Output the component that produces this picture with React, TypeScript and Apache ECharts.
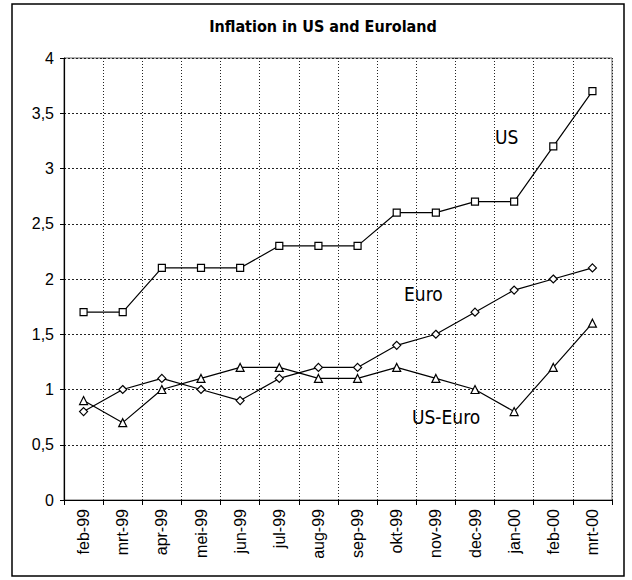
import React, { useEffect, useRef } from "react";
import * as echarts from "echarts";

const categories = ["feb-99", "mrt-99", "apr-99", "mei-99", "jun-99", "jul-99", "aug-99", "sep-99", "okt-99", "nov-99", "dec-99", "jan-00", "feb-00", "mrt-00"];
const usValues = [1.7, 1.7, 2.1, 2.1, 2.1, 2.3, 2.3, 2.3, 2.6, 2.6, 2.7, 2.7, 3.2, 3.7];
const euroValues = [0.8, 1.0, 1.1, 1.0, 0.9, 1.1, 1.2, 1.2, 1.4, 1.5, 1.7, 1.9, 2.0, 2.1];
const diffValues = [0.9, 0.7, 1.0, 1.1, 1.2, 1.2, 1.1, 1.1, 1.2, 1.1, 1.0, 0.8, 1.2, 1.6];
const title = "Inflation in US and Euroland";

const FONT = "'Liberation Sans', Arial, sans-serif";
const NARROW = "'Liberation Sans Narrow', 'DejaVu Sans Condensed', 'Liberation Sans', sans-serif";

export default function App() {
  const ref = useRef<HTMLDivElement>(null);
  useEffect(() => {
    document.body.style.margin = "0";
    const chart = echarts.init(ref.current!, null, { renderer: "svg" });
    const mkSeries = (name: string, data: number[], symbol: string, size: number) => ({
      name,
      type: "line",
      data,
      symbol,
      symbolSize: size,
      showAllSymbol: true,
      lineStyle: { color: "#000", width: 1.2 },
      itemStyle: { color: "#fff", borderColor: "#000", borderWidth: 1.2 },
      emphasis: { disabled: true },
    });
    chart.setOption({
      animation: false,
      backgroundColor: "#fff",
      title: {
        text: title,
        left: 318,
        top: 13,
        textAlign: "center",
        textStyle: { fontFamily: NARROW, fontSize: 16, fontWeight: "bold", color: "#000" },
      },
      grid: {
        left: 64,
        right: 20,
        top: 58,
        bottom: 80,
        show: true,
        borderColor: "#666",
        borderWidth: 1,
      },
      xAxis: {
        type: "category",
        data: categories,
        boundaryGap: true,
        axisLine: { lineStyle: { color: "#000", width: 1.2 } },
        axisTick: { show: true, length: 5, lineStyle: { color: "#000" } },
        axisLabel: {
          rotate: 90,
          margin: 9,
          fontFamily: FONT,
          fontSize: 16,
          color: "#000",
          interval: 0,
        },
        splitLine: { show: true, lineStyle: { color: "#222", type: [1, 2], width: 1 } },
      },
      yAxis: {
        type: "value",
        min: 0,
        max: 4,
        interval: 0.5,
        axisLine: { show: true, lineStyle: { color: "#000", width: 1.2 } },
        axisTick: { show: true, length: 4, lineStyle: { color: "#000" } },
        axisLabel: {
          fontFamily: FONT,
          fontSize: 16,
          color: "#000",
          margin: 10,
          formatter: (v: number) => String(v).replace(".", ","),
        },
        splitLine: { show: true, lineStyle: { color: "#222", type: [2, 2], width: 1 } },
      },
      series: [
        mkSeries("US", usValues, "rect", 7),
        mkSeries("Euro", euroValues, "diamond", 8),
        mkSeries("US-Euro", diffValues, "triangle", 8),
      ],
      graphic: [
        {
          type: "rect",
          shape: { x: 12, y: 4, width: 612, height: 572 },
          style: { fill: "none", stroke: "#000", lineWidth: 1.5 },
          silent: true,
          z: -1,
        },
        { type: "text", x: 495, y: 127, style: { text: "US", font: `19px ${NARROW}`, fill: "#000" } },
        { type: "text", x: 404, y: 284, style: { text: "Euro", font: `19px ${NARROW}`, fill: "#000" } },
        { type: "text", x: 412, y: 407, style: { text: "US-Euro", font: `19px ${NARROW}`, fill: "#000" } },
      ],
    });
    return () => chart.dispose();
  }, []);
  return <div ref={ref} style={{ width: 632, height: 580 }} />;
}
